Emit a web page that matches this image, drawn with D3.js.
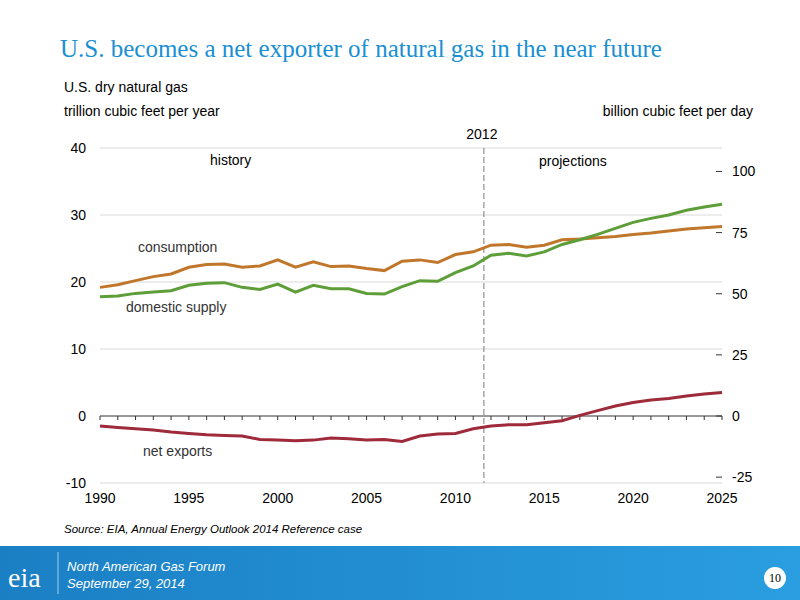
<!DOCTYPE html>
<html>
<head>
<script src="https://cdn.jsdelivr.net/npm/d3@7"></script>
<style>
  body { margin: 0; background: #fff; font-family: "Liberation Sans", Arial, sans-serif; }
</style>
</head>
<body>
<div id="chart"></div>
<script>
const years = d3.range(1990, 2026);
const consumption = [19.2,19.6,20.2,20.8,21.2,22.2,22.6,22.7,22.2,22.4,23.3,22.2,23.0,22.3,22.4,22.0,21.7,23.1,23.3,22.9,24.1,24.5,25.5,25.6,25.2,25.5,26.3,26.4,26.6,26.8,27.1,27.3,27.6,27.9,28.1,28.3];
const supply = [17.8,17.9,18.3,18.5,18.7,19.5,19.8,19.9,19.2,18.9,19.7,18.5,19.5,19.0,19.0,18.3,18.2,19.3,20.2,20.1,21.4,22.4,24.0,24.3,23.9,24.5,25.6,26.3,27.1,28.0,28.9,29.5,30.0,30.7,31.2,31.6];
const netExports = [-1.5,-1.7,-1.9,-2.1,-2.4,-2.6,-2.8,-2.9,-3.0,-3.5,-3.6,-3.7,-3.6,-3.3,-3.4,-3.6,-3.5,-3.8,-3.0,-2.7,-2.6,-1.9,-1.5,-1.3,-1.3,-1.0,-0.7,0.1,0.8,1.5,2.0,2.4,2.6,3.0,3.3,3.5];
const leftTicks = [-10, 0, 10, 20, 30, 40];
const rightTicks = [-25, 0, 25, 50, 75, 100];
const xTicks = [1990, 1995, 2000, 2005, 2010, 2015, 2020, 2025];
const divider = 2011.6;

const svg = d3.select("#chart").append("svg").attr("width", 800).attr("height", 600);

const x = d3.scaleLinear().domain([1990, 2025]).range([100, 722]);
const y = d3.scaleLinear().domain([-10, 40]).range([483, 148]);
const yR = d3.scaleLinear().domain([-10 / 0.365, 40 / 0.365]).range([483, 148]);

// title
svg.append("text").attr("x", 60).attr("y", 57).attr("fill", "#1a8fd2")
  .attr("font-family", "Liberation Serif, serif").attr("font-size", 25)
  .text("U.S. becomes a net exporter of natural gas in the near future");

svg.append("text").attr("x", 64).attr("y", 92).attr("font-size", 14).text("U.S. dry natural gas");
svg.append("text").attr("x", 64).attr("y", 116).attr("font-size", 14).text("trillion cubic feet per year");
svg.append("text").attr("x", 753).attr("y", 116).attr("font-size", 14).attr("text-anchor", "end").text("billion cubic feet per day");

// gridlines
svg.append("g").selectAll("line").data(leftTicks.filter(d => d !== 0)).join("line")
  .attr("x1", 100).attr("x2", 722).attr("y1", d => y(d)).attr("y2", d => y(d))
  .attr("stroke", "#d9d9d9");
svg.append("line").attr("x1", 100).attr("x2", 722).attr("y1", y(0)).attr("y2", y(0)).attr("stroke", "#333");

// left ticks
svg.append("g").selectAll("text").data(leftTicks).join("text")
  .attr("x", 86).attr("y", d => y(d) + 5).attr("text-anchor", "end").attr("font-size", 14).text(d => d);
// right ticks
const rg = svg.append("g");
rg.selectAll("line").data(rightTicks).join("line")
  .attr("x1", 716).attr("x2", 722).attr("y1", d => yR(d)).attr("y2", d => yR(d)).attr("stroke", "#333");
rg.selectAll("text").data(rightTicks).join("text")
  .attr("x", 732).attr("y", d => yR(d) + 5).attr("font-size", 14).text(d => d);
// x ticks
const xg = svg.append("g");
xg.selectAll("line").data(d3.range(1990, 2026)).join("line")
  .attr("x1", d => x(d)).attr("x2", d => x(d)).attr("y1", y(0)).attr("y2", y(0) + 4).attr("stroke", "#333");
xg.selectAll("text").data(xTicks).join("text")
  .attr("x", d => x(d)).attr("y", 503).attr("text-anchor", "middle").attr("font-size", 14).text(d => d);

// divider
svg.append("line").attr("x1", x(divider)).attr("x2", x(divider)).attr("y1", 148).attr("y2", 483)
  .attr("stroke", "#999").attr("stroke-dasharray", "6,3").attr("stroke-width", 1.3);
svg.append("text").attr("x", x(divider) - 2).attr("y", 139).attr("text-anchor", "middle").attr("font-size", 14).text("2012");
svg.append("text").attr("x", 210).attr("y", 165).attr("font-size", 14).text("history");
svg.append("text").attr("x", 539).attr("y", 166).attr("font-size", 14).text("projections");

const line = d3.line().x((d, i) => x(years[i])).y(d => y(d));
[[consumption, "#c0772b"], [supply, "#5d9e38"], [netExports, "#9e2a3a"]].forEach(([s, c]) => {
  svg.append("path").datum(s).attr("d", line).attr("fill", "none").attr("stroke", c).attr("stroke-width", 3);
});
svg.append("text").attr("x", 138).attr("y", 252).attr("font-size", 14).attr("fill", "#333").text("consumption");
svg.append("text").attr("x", 126).attr("y", 312).attr("font-size", 14).attr("fill", "#333").text("domestic supply");
svg.append("text").attr("x", 143).attr("y", 456).attr("font-size", 14).attr("fill", "#333").text("net exports");

svg.append("text").attr("x", 64).attr("y", 533).attr("font-size", 11.5).attr("font-style", "italic")
  .text("Source: EIA, Annual Energy Outlook 2014 Reference case");

// footer
const grad = svg.append("defs").append("linearGradient").attr("id", "fg");
grad.append("stop").attr("offset", "0").attr("stop-color", "#1b7fc4");
grad.append("stop").attr("offset", "1").attr("stop-color", "#2a9ee0");
svg.append("rect").attr("x", 0).attr("y", 546).attr("width", 800).attr("height", 54).attr("fill", "url(#fg)");
svg.append("text").attr("x", 8).attr("y", 587).attr("fill", "#fff").attr("font-family", "Liberation Serif, serif")
  .attr("font-size", 28).text("eia");
svg.append("line").attr("x1", 58).attr("x2", 58).attr("y1", 552).attr("y2", 594).attr("stroke", "#9fd0f0");
svg.append("text").attr("x", 67).attr("y", 571).attr("fill", "#fff").attr("font-size", 13).attr("font-style", "italic").text("North American Gas Forum");
svg.append("text").attr("x", 67).attr("y", 588).attr("fill", "#fff").attr("font-size", 13).attr("font-style", "italic").text("September 29, 2014");
svg.append("circle").attr("cx", 775).attr("cy", 578).attr("r", 11).attr("fill", "#fff");
svg.append("text").attr("x", 775).attr("y", 582).attr("text-anchor", "middle").attr("font-family", "Liberation Serif, serif")
  .attr("font-size", 12).text("10");
</script>
</body>
</html>
